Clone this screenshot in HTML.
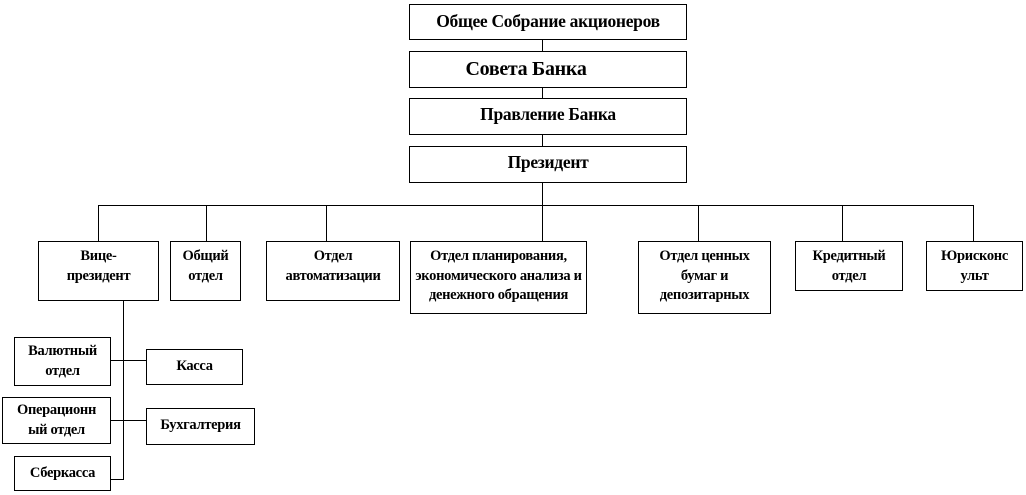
<!DOCTYPE html>
<html><head><meta charset="utf-8"><style>
body{margin:0;width:1026px;height:495px;background:#fff;position:relative;overflow:hidden;font-family:"Liberation Serif",serif;font-weight:bold;color:#000}
.b{position:absolute;border:1px solid #000;box-sizing:border-box;text-align:center;font-size:14.5px;line-height:19.5px;background:#fff;white-space:nowrap;letter-spacing:-0.3px}
.l{position:absolute;background:#000}
</style></head><body>
<div class="l" style="left:542px;top:39px;width:1px;height:166px"></div>
<div class="l" style="left:98px;top:205px;width:876px;height:1px"></div>
<div class="l" style="left:98px;top:205px;width:1px;height:36px"></div>
<div class="l" style="left:206px;top:205px;width:1px;height:36px"></div>
<div class="l" style="left:326px;top:205px;width:1px;height:36px"></div>
<div class="l" style="left:542px;top:205px;width:1px;height:36px"></div>
<div class="l" style="left:698px;top:205px;width:1px;height:36px"></div>
<div class="l" style="left:842px;top:205px;width:1px;height:36px"></div>
<div class="l" style="left:973px;top:205px;width:1px;height:36px"></div>
<div class="l" style="left:123px;top:300px;width:1px;height:180px"></div>
<div class="l" style="left:110px;top:360px;width:36px;height:1px"></div>
<div class="l" style="left:110px;top:420px;width:36px;height:1px"></div>
<div class="l" style="left:110px;top:479px;width:14px;height:1px"></div>

<div class="b" style="left:409px;top:4px;width:278px;height:36px;font-size:17.5px;line-height:32px">Общее Собрание акционеров</div>
<div class="b" style="left:409px;top:51px;width:278px;height:37px;font-size:20px;line-height:34px;padding-right:44px">Совета Банка</div>
<div class="b" style="left:409px;top:98px;width:278px;height:37px;font-size:17.5px;line-height:31px">Правление Банка</div>
<div class="b" style="left:409px;top:146px;width:278px;height:37px;font-size:17.5px;line-height:31px">Президент</div>

<div class="b" style="left:38px;top:241px;width:121px;height:60px;padding-top:5px">Вице-<br>президент</div>
<div class="b" style="left:170px;top:241px;width:71px;height:60px;padding-top:5px">Общий<br>отдел</div>
<div class="b" style="left:266px;top:241px;width:134px;height:60px;padding-top:5px">Отдел<br>автоматизации</div>
<div class="b" style="left:410px;top:241px;width:177px;height:73px;padding-top:5px">Отдел планирования,<br>экономического анализа и<br>денежного обращения</div>
<div class="b" style="left:638px;top:241px;width:133px;height:73px;padding-top:5px">Отдел ценных<br>бумаг и<br>депозитарных</div>
<div class="b" style="left:795px;top:241px;width:108px;height:50px;padding-top:5px">Кредитный<br>отдел</div>
<div class="b" style="left:926px;top:241px;width:97px;height:50px;padding-top:5px">Юрисконс<br>ульт</div>

<div class="b" style="left:14px;top:337px;width:97px;height:49px;padding-top:4px">Валютный<br>отдел</div>
<div class="b" style="left:146px;top:349px;width:97px;height:36px;line-height:33px">Касса</div>
<div class="b" style="left:2px;top:397px;width:109px;height:47px;padding-top:3px">Операционн<br>ый отдел</div>
<div class="b" style="left:146px;top:408px;width:109px;height:37px;line-height:33px">Бухгалтерия</div>
<div class="b" style="left:14px;top:456px;width:97px;height:35px;line-height:33px">Сберкасса</div>
</body></html>
